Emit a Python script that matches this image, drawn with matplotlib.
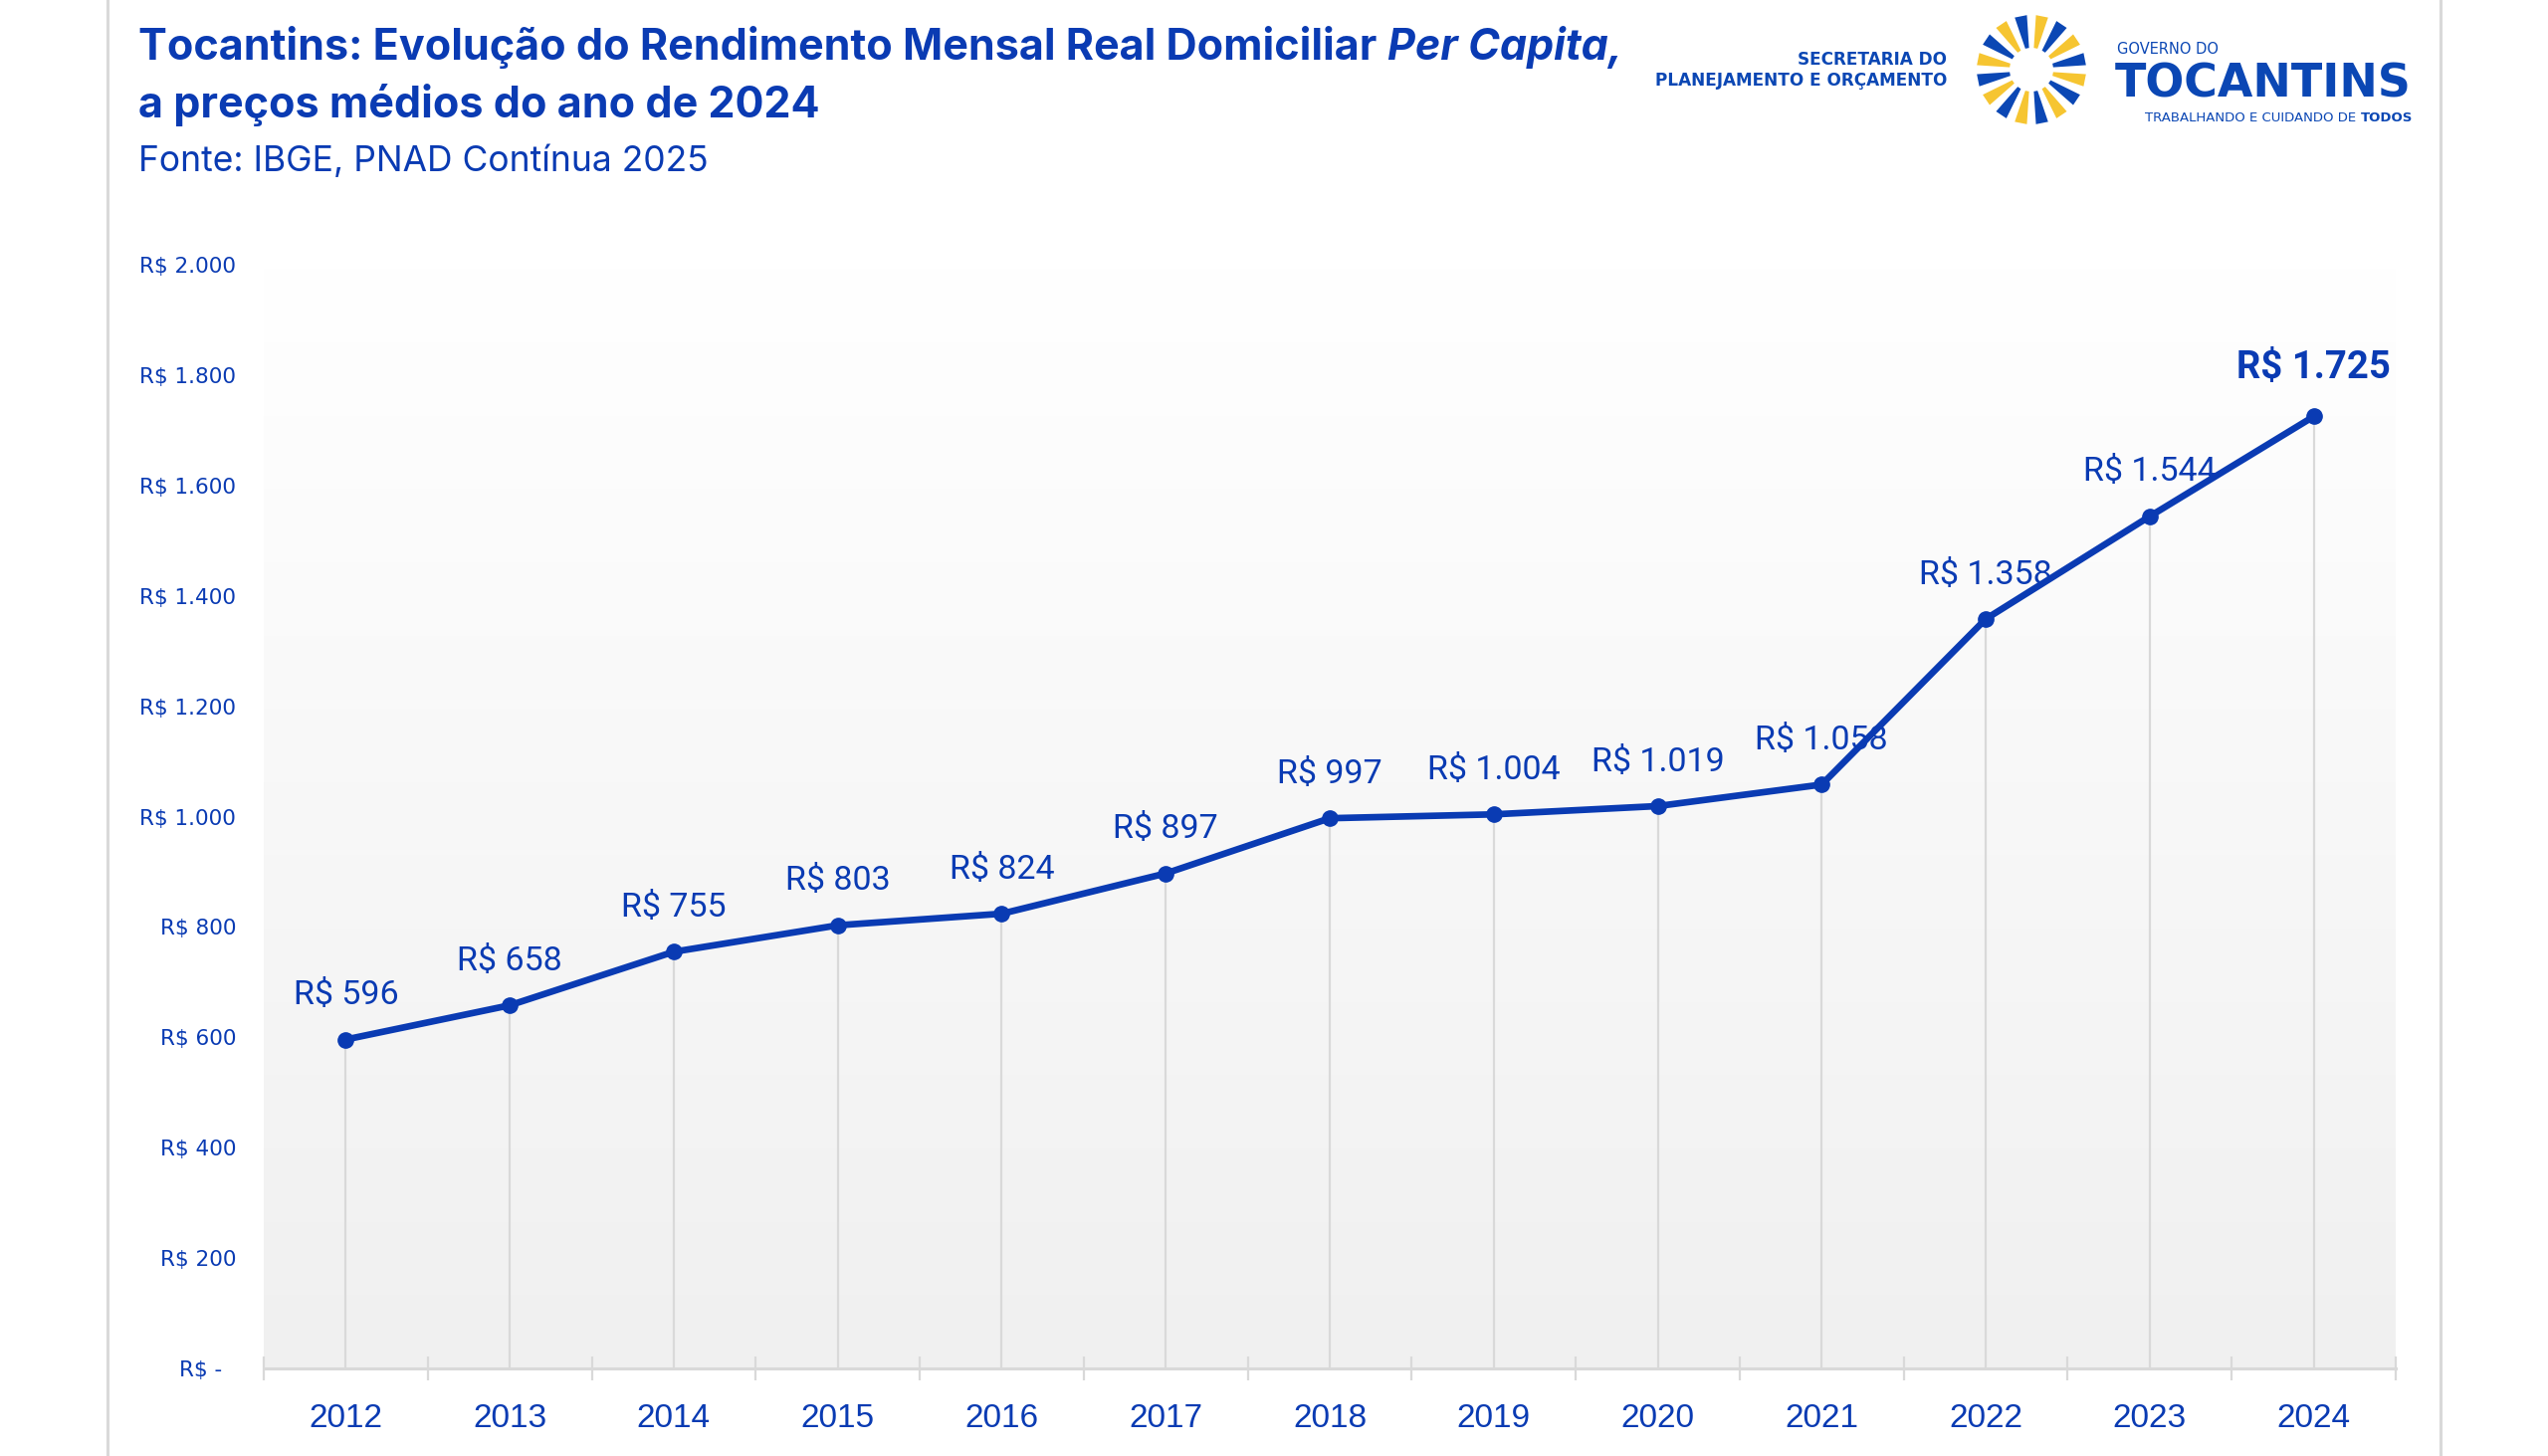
import numpy as np
import matplotlib
matplotlib.use("Agg")
import matplotlib.pyplot as plt
from matplotlib.lines import Line2D
from matplotlib.patches import Polygon
from matplotlib.colors import LinearSegmentedColormap

# data
years = ['2012', '2013', '2014', '2015', '2016', '2017', '2018',
         '2019', '2020', '2021', '2022', '2023', '2024']
rendimento = [596, 658, 755, 803, 824, 897, 997, 1004, 1019, 1058, 1358, 1544, 1725]
y_ticks = [0, 200, 400, 600, 800, 1000, 1200, 1400, 1600, 1800, 2000]


def brl(v):
    if v == 0:
        return 'R$ -  '
    return 'R$ ' + f'{v:,}'.replace(',', '.')


BLUE = '#0A3BB3'
LOGO_BLUE = '#0B47B4'
LOGO_YELLOW = '#F6C531'
GRID = '#d9d9d9'

W, H = 2560, 1463
fig = plt.figure(figsize=(W / 100, H / 100), dpi=100)


def fx(px):
    return px / W


def fy(py):
    return 1 - py / H


# page side borders
for xb in (108, 2452):
    fig.add_artist(Line2D([fx(xb), fx(xb)], [0, 1], color=GRID, lw=2.2))

# plot area
ax = fig.add_axes([fx(265), fy(1375), fx(2407) - fx(265), fy(266) - fy(1375)])
x = np.arange(len(years))
ax.set_xlim(-0.5, len(years) - 0.5)
ax.set_ylim(0, 2000)

# background gradient (light grey at bottom to white at top)
grad = np.linspace(0, 1, 256).reshape(-1, 1)
cmap = LinearSegmentedColormap.from_list('bg', ['#f0f0f0', '#ffffff'])
ax.imshow(grad, extent=[-0.5, len(years) - 0.5, 0, 2000], aspect='auto',
          cmap=cmap, origin='lower', zorder=0)

# drop lines
ax.vlines(x, 0, rendimento, color=GRID, lw=1.6, zorder=1)

# main line
ax.plot(x, rendimento, color=BLUE, lw=4.8, marker='o', ms=11,
        solid_capstyle='round', clip_on=False, zorder=3)

# value labels
for i, v in enumerate(rendimento):
    last = i == len(rendimento) - 1
    ax.annotate(brl(v), (x[i], v), xytext=(0, 35 if last else 32),
                textcoords='offset points', ha='center', va='center',
                fontsize=27.5 if last else 24.5, color=BLUE,
                fontweight='bold' if last else 'normal',
                family='Roboto', zorder=4, annotation_clip=False)

# axes styling
for s in ('top', 'right', 'left'):
    ax.spines[s].set_visible(False)
ax.spines['bottom'].set_color(GRID)
ax.spines['bottom'].set_linewidth(2.2)
ax.spines['bottom'].set_zorder(2)

ax.set_xticks(x)
ax.set_xticklabels(years, fontsize=24, color=BLUE, family='Liberation Sans')
ax.set_xticks(np.arange(-0.5, len(years)), minor=True)
ax.tick_params(axis='x', which='major', length=0, pad=25)
ax.tick_params(axis='x', which='minor', length=17, width=1.6,
               color=GRID, direction='inout')

ax.set_yticks(y_ticks)
ax.set_yticklabels([brl(v) for v in y_ticks], fontsize=15.5, color=BLUE,
                   family='DejaVu Sans')
ax.tick_params(axis='y', length=0, pad=20)

# title
renderer = fig.canvas.get_renderer()
t1 = fig.text(fx(139), fy(60), 'Tocantins: Evolução do Rendimento Mensal Real Domiciliar ',
              fontsize=31, fontweight='bold', color=BLUE, family='Inter',
              va='baseline', ha='left')
bb = t1.get_window_extent(renderer)
fig.text(bb.x1 / W, fy(60), 'Per Capita,', fontsize=31, fontweight='bold',
         fontstyle='italic', color=BLUE, family=['Inter', 'Roboto'],
         va='baseline', ha='left')
fig.text(fx(139), fy(118), 'a preços médios do ano de 2024', fontsize=31,
         fontweight='bold', color=BLUE, family='Inter', va='baseline', ha='left')
fig.text(fx(139), fy(172), 'Fonte: IBGE, PNAD Contínua 2025', fontsize=25.5,
         color=BLUE, family='Inter', va='baseline', ha='left')

# logo: secretaria text
fig.text(fx(1956), fy(60), 'SECRETARIA DO', fontsize=12.2, fontweight='bold',
         color=LOGO_BLUE, family='DejaVu Sans', ha='right', va='center')
fig.text(fx(1956), fy(81), 'PLANEJAMENTO E ORÇAMENTO', fontsize=12.2, fontweight='bold',
         color=LOGO_BLUE, family='DejaVu Sans', ha='right', va='center')

# logo: sunburst
lax = fig.add_axes([fx(1976), fy(135), 130 / W, 130 / H])
lax.set_xlim(-65, 65)
lax.set_ylim(-65, 65)
lax.axis('off')
r_in, r_out = 22, 55
for k in range(16):
    ang = np.deg2rad(101.25 - 22.5 * k)
    hw_in, hw_out = np.deg2rad(5.0), np.deg2rad(6.5)
    pts = [(r_in * np.cos(ang - hw_in), r_in * np.sin(ang - hw_in)),
           (r_out * np.cos(ang - hw_out), r_out * np.sin(ang - hw_out)),
           (r_out * np.cos(ang + hw_out), r_out * np.sin(ang + hw_out)),
           (r_in * np.cos(ang + hw_in), r_in * np.sin(ang + hw_in))]
    lax.add_patch(Polygon(pts, closed=True, lw=0,
                          color=LOGO_BLUE if k % 2 == 0 else LOGO_YELLOW))

# logo: governo text
fig.text(fx(2127), fy(49), 'GOVERNO DO', fontsize=10.5, color=LOGO_BLUE,
         family='DejaVu Sans', ha='left', va='center')
fig.text(fx(2125), fy(97), 'TOCANTINS', fontsize=33, fontweight='bold',
         color=LOGO_BLUE, family='DejaVu Sans', ha='left', va='baseline')
t2 = fig.text(fx(2424), fy(118), 'TODOS', fontsize=9.5, fontweight='bold',
              color=LOGO_BLUE, family='DejaVu Sans', ha='right', va='center')
bb2 = t2.get_window_extent(renderer)
fig.text(bb2.x0 / W, fy(118), 'TRABALHANDO E CUIDANDO DE ', fontsize=9.5,
         color=LOGO_BLUE, family='DejaVu Sans', ha='right', va='center')

fig.savefig('out.png', dpi=100, facecolor='white')
